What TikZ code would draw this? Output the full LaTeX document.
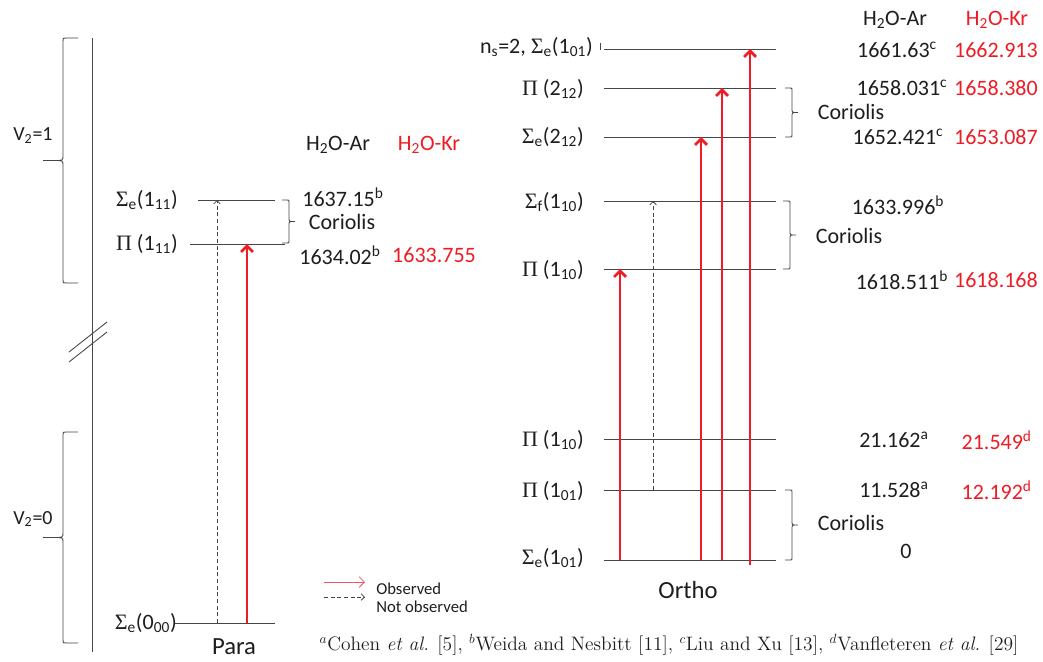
\documentclass[tikz,border=0pt]{standalone}
\usepackage{fontspec}
\newfontfamily\carl{Carlito}
\newfontfamily\tms{Liberation Serif}
\usetikzlibrary{arrows.meta}
\definecolor{kr}{RGB}{238,28,36}
\definecolor{ink}{RGB}{30,30,30}
\definecolor{lvl}{RGB}{70,70,70}
\newcommand\Sg{{\tms Σ}}
\newcommand\Pg{{\tms Π}}
\newcommand\corbr[3]{% spine x, top y, bottom y
  \draw[brk] (#1-7,#2) -- (#1-2,#2) .. controls (#1,#2) .. (#1,#2+2)
    -- (#1,{(#2+#3)/2-2}) .. controls (#1,{(#2+#3)/2}) .. (#1+6,{(#2+#3)/2})
    -- (#1+6,{(#2+#3)/2}) .. controls (#1,{(#2+#3)/2}) .. (#1,{(#2+#3)/2+2})
    -- (#1,#3-2) .. controls (#1,#3) .. (#1-2,#3) -- (#1-7,#3);}
\newcommand\vbr[2]{% top y, bottom y : large brace pointing left
  \draw[brk] (78,#1) -- (66,#1) .. controls (63,#1) .. (63,#1+3)
    -- (63,{(#1+#2)/2-5}) .. controls (63,{(#1+#2)/2}) .. (54,{(#1+#2)/2}) -- (43,{(#1+#2)/2})
    -- (54,{(#1+#2)/2}) .. controls (63,{(#1+#2)/2}) .. (63,{(#1+#2)/2+5})
    -- (63,#2-3) .. controls (63,#2) .. (66,#2) -- (78,#2);}
\begin{document}
\begin{tikzpicture}[x=0.75pt,y=-0.75pt,
  every node/.style={font=\carl\fontsize{16.5}{19}\selectfont, text=ink, inner sep=0pt},
  level/.style={draw=lvl, line width=0.65pt},
  brk/.style={draw=lvl, line width=0.65pt},
  obs/.style={draw=kr, line width=2.1pt, -{Straight Barb[length=4.5pt,width=9pt]}},
  nobs/.style={draw=lvl, line width=0.6pt, dash pattern=on 3pt off 2pt, -{Straight Barb[length=2.5pt,width=5pt]}},
  legobs/.style={draw=kr!75, line width=0.6pt, -{Straight Barb[length=4pt,width=8pt]}},
  rtxt/.style={text=kr},
  vtxt/.style={font=\carl\fontsize{15}{17}\selectfont},
  big/.style={font=\carl\fontsize{18.5}{21}\selectfont},
  leg/.style={font=\carl\fontsize{12.5}{14}\selectfont, anchor=west},
  foot/.style={font=\rmfamily\fontsize{14.6}{17}\selectfont}]
\fill[white] (0,0) rectangle (1043,661);
\path[use as bounding box] (0,0) rectangle (1043,661);

% left axis with break
\coordinate (axT) at (92,38);
\coordinate (axB) at (92,652);
\draw[brk] (axT) -- (axB);
\draw[brk] (69,352) -- (107,322);
\draw[brk] (69,362) -- (107,332);
\vbr{38}{283}
\vbr{432}{643}
\node[vtxt] (v1) at (33,136) {V\textsubscript{2}=1};
\node[vtxt] (v0) at (33,519) {V\textsubscript{2}=0};

% ---------------- Para ----------------
\coordinate (p0L) at (175,623); \coordinate (p0R) at (275,623);
\coordinate (p1L) at (190,244); \coordinate (p1R) at (285,244);
\coordinate (p2L) at (198,200); \coordinate (p2R) at (275,200);
\draw[level] (p0L) -- (p0R);
\draw[level] (p1L) -- (p1R);
\draw[level] (p2L) -- (p2R);
\node[anchor=east] (lp2) at (178,200) {\Sg\textsubscript{e}(1\textsubscript{11})};
\node[anchor=east] (lp1) at (178,244) {\Pg\ (1\textsubscript{11})};
\node[anchor=east] (lp0) at (177,623) {\Sg\textsubscript{e}(0\textsubscript{00})};
\node[big] (para) at (234,647) {Para};
\coordinate (xd) at (217,0);
\coordinate (xr) at (247,0);
\draw[nobs] (xd |- p0L) -- (xd |- p2L);
\draw[obs] (xr |- p0L) -- (xr |- p1L);
\corbr{289}{200}{243}
\node (pc) at (342,222) {Coriolis};
\node (pha) at (338,145) {H\textsubscript{2}O-Ar};
\node[rtxt] (phk) at (429,145) {H\textsubscript{2}O-Kr};
\node (pv2) at (343,197) {1637.15\textsuperscript{b}};
\node (pv1) at (340,255) {1634.02\textsuperscript{b}};
\node[rtxt] (pk1) at (434,255) {1633.755};

% legend
\coordinate (lg1a) at (324,582); \coordinate (lg1b) at (365,582);
\coordinate (lg2a) at (324,597); \coordinate (lg2b) at (365,597);
\draw[legobs] (lg1a) -- (lg1b);
\draw[nobs] (lg2a) -- (lg2b);
\node[leg] (lgo) at (376,589) {Observed};
\node[leg] (lgn) at (376,607) {Not observed};

% ---------------- Ortho ----------------
\coordinate (o0L) at (604,560); \coordinate (o0R) at (776,560);
\coordinate (o1L) at (604,490); \coordinate (o1R) at (776,490);
\coordinate (o2L) at (604,439); \coordinate (o2R) at (776,439);
\coordinate (o3L) at (604,269); \coordinate (o3R) at (776,269);
\coordinate (o4L) at (604,201); \coordinate (o4R) at (776,201);
\coordinate (o5L) at (604,137); \coordinate (o5R) at (776,137);
\coordinate (o6L) at (604,88);  \coordinate (o6R) at (776,88);
\coordinate (o7L) at (604,49);  \coordinate (o7R) at (776,49);
\foreach \i in {0,...,7} {\draw[level] (o\i L) -- (o\i R);}
\draw[brk] (600,43) -- (600,50);
\node[anchor=east] (lo7) at (593,47) {n\textsubscript{s}=2, \Sg\textsubscript{e}(1\textsubscript{01})};
\node[anchor=east] (lo6) at (584,89) {\Pg\ (2\textsubscript{12})};
\node[anchor=east] (lo5) at (584,137) {\Sg\textsubscript{e}(2\textsubscript{12})};
\node[anchor=east] (lo4) at (584,202) {\Sg\textsubscript{f}(1\textsubscript{10})};
\node[anchor=east] (lo3) at (584,270) {\Pg\ (1\textsubscript{10})};
\node[anchor=east] (lo2) at (584,440) {\Pg\ (1\textsubscript{10})};
\node[anchor=east] (lo1) at (584,491) {\Pg\ (1\textsubscript{01})};
\node[anchor=east] (lo0) at (584,558) {\Sg\textsubscript{e}(1\textsubscript{01})};
\node[big] (ortho) at (688,590) {Ortho};

\coordinate (xa) at (620,0);
\coordinate (xb) at (653,0);
\coordinate (xc) at (701,0);
\coordinate (xe) at (722,0);
\coordinate (xf) at (750,0);
\coordinate (f0) at (750,565);
\draw[obs] (xa |- o0L) -- (xa |- o3L);
\draw[nobs] (xb |- o1L) -- (xb |- o4L);
\draw[obs] (xc |- o0L) -- (xc |- o5L);
\draw[obs] (xe |- o0L) -- (xe |- o6L);
\draw[obs] (f0) -- (xf |- o7L);

\corbr{792}{88}{137}
\corbr{790}{201}{269}
\corbr{792}{490}{560}
\node (oc1) at (851,112) {Coriolis};
\node (oc2) at (849,236) {Coriolis};
\node (oc3) at (851,523) {Coriolis};

\node (oha) at (895,20) {H\textsubscript{2}O-Ar};
\node[rtxt] (ohk) at (997,20) {H\textsubscript{2}O-Kr};
\node (ov7) at (897,50) {1661.63\textsuperscript{c}};
\node[rtxt, anchor=east] (ok7) at (1038,50) {1662.913};
\node (ov6) at (902,88) {1658.031\textsuperscript{c}};
\node[rtxt, anchor=east] (ok6) at (1038,88) {1658.380};
\node (ov5) at (898,137) {1652.421\textsuperscript{c}};
\node[rtxt, anchor=east] (ok5) at (1038,137) {1653.087};
\node (ov4) at (898,205) {1633.996\textsuperscript{b}};
\node (ov3) at (902,280) {1618.511\textsuperscript{b}};
\node[rtxt, anchor=east] (ok3) at (1038,280) {1618.168};
\node (ov2) at (894,440) {21.162\textsuperscript{a}};
\node[rtxt, anchor=east] (ok2) at (1032,440) {21.549\textsuperscript{d}};
\node (ov1) at (894,490) {11.528\textsuperscript{a}};
\node[rtxt, anchor=east] (ok1) at (1032,490) {12.192\textsuperscript{d}};
\node (ov0) at (906,551) {0};

\node[foot] (fn) at (669,645) {$^a$Cohen \textit{et al.} [5], $^b$Weida and Nesbitt [11], $^c$Liu and Xu [13], $^d$Vanfleteren \textit{et al.} [29]};
\end{tikzpicture}
\end{document}
